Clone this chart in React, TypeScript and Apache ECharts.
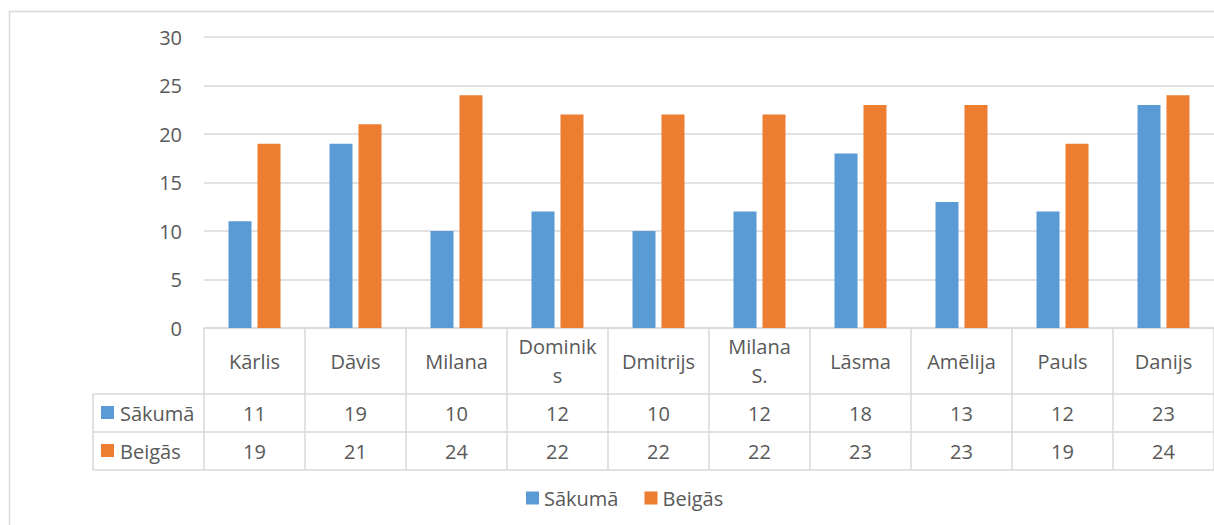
import React, { useEffect, useRef } from "react";
import * as echarts from "echarts";

const categories = ["Kārlis", "Dāvis", "Milana", "Dominiks", "Dmitrijs", "Milana S.", "Lāsma", "Amēlija", "Pauls", "Danijs"];
const tickLabels = ["Kārlis", "Dāvis", "Milana", "Dominik\ns", "Dmitrijs", "Milana\nS.", "Lāsma", "Amēlija", "Pauls", "Danijs"];
const seriesNames = ["Sākumā", "Beigās"];
const sakuma = [11, 19, 10, 12, 10, 12, 18, 13, 12, 23];
const beigas = [19, 21, 24, 22, 22, 22, 23, 23, 19, 24];
const yTicks = [0, 5, 10, 15, 20, 25, 30];

const BLUE = "#5B9BD5";
const ORANGE = "#ED7D31";
const TEXT = "#595959";
const LINE = "#D9D9D9";
const FONT = "'Open Sans', sans-serif";
const FS = 20;

export default function App() {
  const ref = useRef<HTMLDivElement>(null);
  useEffect(() => {
    if (!ref.current) return;
    const chart = echarts.init(ref.current, null, { renderer: "svg" });
    const gl = 204, gt = 37, gw = 1019, gh = 291;
    const gb = gt + gh; // 328
    const rows = [394, 432, 470];
    const legX = 93;
    const tableRight = gl + gw;
    const graphic: any[] = [
      { type: "rect", shape: { x: 9.5, y: 11.5, width: 1400, height: 700 }, style: { fill: "none", stroke: LINE, lineWidth: 1.5 }, silent: true },
    ];
    rows.forEach((y) => {
      graphic.push({ type: "line", shape: { x1: legX, y1: y, x2: tableRight, y2: y }, style: { stroke: LINE, lineWidth: 1.5 } });
    });
    graphic.push({ type: "line", shape: { x1: legX, y1: rows[0], x2: legX, y2: rows[2] }, style: { stroke: LINE, lineWidth: 1.5 } });
    const keyColors = [BLUE, ORANGE];
    seriesNames.forEach((n, i) => {
      const cy = (rows[i] + rows[i + 1]) / 2;
      graphic.push({ type: "rect", shape: { x: 101, y: cy - 7, width: 13, height: 13 }, style: { fill: keyColors[i] } });
      graphic.push({ type: "text", x: 120, y: cy, style: { text: n, fill: TEXT, font: `${FS}px ${FONT}`, verticalAlign: "middle", align: "left" } });
    });

    const valueAxis = (vals: number[], margin: number) => ({
      type: "category",
      data: categories,
      position: "bottom",
      axisLine: { show: false },
      axisTick: { show: false },
      axisLabel: {
        formatter: (_v: string, i: number) => String(vals[i]),
        margin,
        color: TEXT,
        fontSize: FS,
        fontFamily: FONT,
        verticalAlign: "middle",
        interval: 0,
      },
    });

    chart.setOption({
      animation: false,
      grid: { left: gl, top: gt, width: gw, height: gh, containLabel: false },
      legend: {
        data: seriesNames,
        left: 521,
        top: 483,
        icon: "rect",
        itemWidth: 13,
        itemHeight: 13,
        itemGap: 26,
        textStyle: { color: TEXT, fontSize: FS, fontFamily: FONT },
      },
      xAxis: [
        {
          type: "category",
          data: categories,
          axisLine: { show: true, lineStyle: { color: LINE, width: 1.5 } },
          axisTick: { show: true, length: rows[2] - gb, lineStyle: { color: LINE, width: 1.5 } },
          axisLabel: {
            formatter: (_v: string, i: number) => tickLabels[i],
            margin: 33,
            color: TEXT,
            fontSize: FS,
            fontFamily: FONT,
            lineHeight: 29,
            verticalAlign: "middle",
            interval: 0,
          },
        },
        valueAxis(sakuma, (rows[0] + rows[1]) / 2 - gb),
        valueAxis(beigas, (rows[1] + rows[2]) / 2 - gb),
      ],
      yAxis: {
        type: "value",
        min: yTicks[0],
        max: yTicks[yTicks.length - 1],
        interval: 5,
        axisLine: { show: false },
        axisTick: { show: false },
        splitLine: { lineStyle: { color: LINE, width: 1.5 } },
        axisLabel: { color: TEXT, fontSize: FS, fontFamily: FONT, margin: 22 },
      },
      series: [
        { name: seriesNames[0], type: "bar", data: sakuma, barWidth: 23, barGap: "26%", itemStyle: { color: BLUE } },
        { name: seriesNames[1], type: "bar", data: beigas, barWidth: 23, barGap: "26%", itemStyle: { color: ORANGE } },
      ],
      graphic,
    });
    return () => chart.dispose();
  }, []);
  return <div ref={ref} style={{ position: "absolute", left: 0, top: 0, width: 1214, height: 525 }} />;
}
